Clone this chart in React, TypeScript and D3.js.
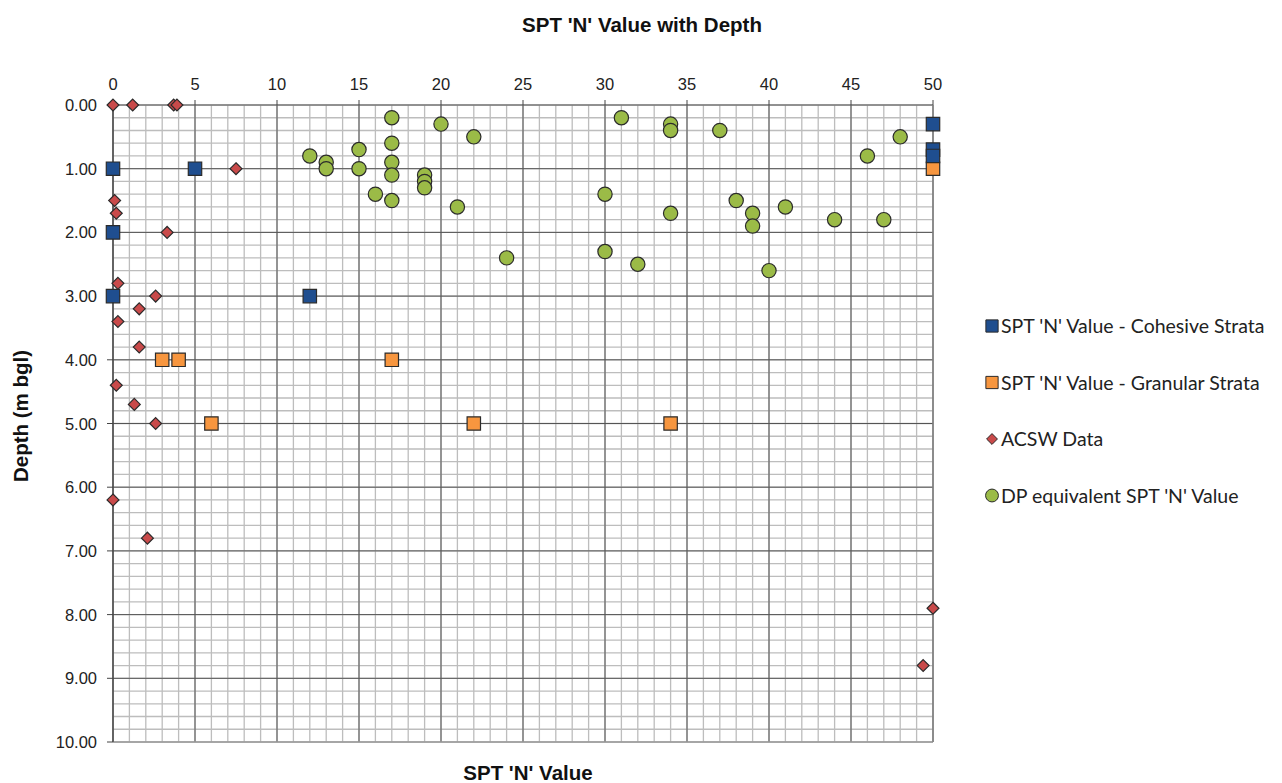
import * as d3 from "d3";
import { useRef, useEffect } from "react";

// SPT 'N' value vs depth (m bgl)
const cohesiveN = [0, 5, 0, 0, 12, 50, 50, 50];
const cohesiveDepth = [1.0, 1.0, 2.0, 3.0, 3.0, 0.3, 0.7, 0.8];

const granularN = [50, 3, 4, 17, 6, 22, 34];
const granularDepth = [1.0, 4.0, 4.0, 4.0, 5.0, 5.0, 5.0];

const acswN = [0, 1.2, 3.7, 3.9, 7.5, 0.1, 0.2, 3.3, 0.3, 2.6, 1.6, 0.3, 1.6, 0.2, 1.3, 2.6, 0, 2.1, 50, 49.4];
const acswDepth = [0, 0, 0, 0, 1.0, 1.5, 1.7, 2.0, 2.8, 3.0, 3.2, 3.4, 3.8, 4.4, 4.7, 5.0, 6.2, 6.8, 7.9, 8.8];

const dpN = [12, 13, 13, 15, 15, 16, 17, 17, 17, 17, 17, 19, 19, 19, 20, 21, 22, 24, 30, 30, 31, 32, 34, 34, 34, 37, 38, 39, 39, 40, 41, 44, 46, 47, 48];
const dpDepth = [0.8, 0.9, 1.0, 0.7, 1.0, 1.4, 0.2, 0.6, 0.9, 1.1, 1.5, 1.1, 1.2, 1.3, 0.3, 1.6, 0.5, 2.4, 1.4, 2.3, 0.2, 2.5, 0.3, 0.4, 1.7, 0.4, 1.5, 1.7, 1.9, 2.6, 1.6, 1.8, 0.8, 1.8, 0.5];

const xTicks = [0, 5, 10, 15, 20, 25, 30, 35, 40, 45, 50];
const yTicks = [0, 1, 2, 3, 4, 5, 6, 7, 8, 9, 10];

const seriesNames = [
  "SPT 'N' Value - Cohesive Strata",
  "SPT 'N' Value - Granular Strata",
  "ACSW Data",
  "DP equivalent SPT 'N' Value",
];

export default function App() {
  const ref = useRef<SVGSVGElement>(null);

  useEffect(() => {
    const width = 1282;
    const height = 783;
    const m = { left: 113, right: 933, top: 105, bottom: 742 };

    const svg = d3.select(ref.current);
    svg.selectAll("*").remove();
    svg.attr("width", width).attr("height", height);

    const x = d3.scaleLinear().domain([0, 50]).range([m.left, m.right]);
    const y = d3.scaleLinear().domain([0, 10]).range([m.top, m.bottom]);

    const grid = svg.append("g");
    // minor grid
    grid.selectAll("line.xminor")
      .data(d3.range(0, 51, 1))
      .enter().append("line")
      .attr("x1", d => x(d)).attr("x2", d => x(d))
      .attr("y1", m.top).attr("y2", m.bottom)
      .attr("stroke", "#bdbdbd").attr("stroke-width", 1.3);
    grid.selectAll("line.yminor")
      .data(d3.range(0, 51, 1).map(d => d / 5))
      .enter().append("line")
      .attr("y1", d => y(d)).attr("y2", d => y(d))
      .attr("x1", m.left).attr("x2", m.right)
      .attr("stroke", "#bdbdbd").attr("stroke-width", 1.3);
    // major grid
    grid.selectAll("line.xmajor")
      .data(xTicks)
      .enter().append("line")
      .attr("x1", d => x(d)).attr("x2", d => x(d))
      .attr("y1", m.top).attr("y2", m.bottom)
      .attr("stroke", "#555").attr("stroke-width", 1);
    grid.selectAll("line.ymajor")
      .data(yTicks.slice(0, -1))
      .enter().append("line")
      .attr("y1", d => y(d)).attr("y2", d => y(d))
      .attr("x1", m.left).attr("x2", m.right)
      .attr("stroke", "#555").attr("stroke-width", 1);
    grid.append("line")
      .attr("x1", m.left).attr("x2", m.right)
      .attr("y1", m.bottom).attr("y2", m.bottom)
      .attr("stroke", "#999").attr("stroke-width", 1.3);
    grid.append("line")
      .attr("x1", m.right).attr("x2", m.right)
      .attr("y1", m.top).attr("y2", m.bottom)
      .attr("stroke", "#888").attr("stroke-width", 1.3);
    grid.append("line")
      .attr("x1", m.left).attr("x2", m.left)
      .attr("y1", m.top).attr("y2", m.bottom)
      .attr("stroke", "#444").attr("stroke-width", 1.2);

    // tick marks
    grid.selectAll("line.ytick")
      .data(yTicks)
      .enter().append("line")
      .attr("x1", m.left - 6).attr("x2", m.left)
      .attr("y1", d => y(d)).attr("y2", d => y(d))
      .attr("stroke", "#444");
    grid.selectAll("line.xtick")
      .data(xTicks)
      .enter().append("line")
      .attr("x1", d => x(d)).attr("x2", d => x(d))
      .attr("y1", m.top - 5).attr("y2", m.top)
      .attr("stroke", "#444");

    const font = "'Liberation Sans', Arial, sans-serif";
    svg.selectAll("text.xt")
      .data(xTicks)
      .enter().append("text")
      .attr("x", d => x(d)).attr("y", 90)
      .attr("text-anchor", "middle")
      .style("font-family", font).style("font-size", "16.5px").attr("fill", "#222")
      .text(d => d);
    svg.selectAll("text.yt")
      .data(yTicks)
      .enter().append("text")
      .attr("x", 97).attr("y", d => y(d) + 6)
      .attr("text-anchor", "end")
      .style("font-family", font).style("font-size", "16.5px").attr("fill", "#222")
      .text(d => d3.format(".2f")(d));

    svg.append("text")
      .attr("x", 642).attr("y", 32)
      .attr("text-anchor", "middle")
      .style("font-family", font).style("font-size", "20.5px").style("font-weight", "bold")
      .attr("fill", "#111")
      .text("SPT 'N' Value with Depth");
    svg.append("text")
      .attr("x", 528).attr("y", 780)
      .attr("text-anchor", "middle")
      .style("font-family", font).style("font-size", "20.5px").style("font-weight", "bold")
      .attr("fill", "#111")
      .text("SPT 'N' Value");
    svg.append("text")
      .attr("transform", `translate(28, 416) rotate(-90)`)
      .attr("text-anchor", "middle")
      .style("font-family", font).style("font-size", "20.5px").style("font-weight", "bold")
      .attr("fill", "#111")
      .text("Depth (m bgl)");

    const stroke = "#2b2b2b";
    const colors = ["#1f4e8f", "#f7963f", "#c94a4a", "#9bbb47"];

    const square = d3.symbol().type(d3.symbolSquare).size(180);
    const diamond = d3.symbol().type(d3.symbolDiamond2).size(90);
    const circle = d3.symbol().type(d3.symbolCircle).size(160);

    const plot = svg.append("g");
    const drawSeries = (xs: number[], ys: number[], sym: any, color: string) => {
      plot.append("g").selectAll("path")
        .data(xs.map((v, i) => [v, ys[i]]))
        .enter().append("path")
        .attr("d", sym)
        .attr("transform", d => `translate(${x(d[0])},${y(d[1])})`)
        .attr("fill", color).attr("stroke", stroke).attr("stroke-width", 1.2);
    };
    drawSeries(dpN, dpDepth, circle, colors[3]);
    drawSeries(acswN, acswDepth, diamond, colors[2]);
    drawSeries(granularN, granularDepth, square, colors[1]);
    drawSeries(cohesiveN, cohesiveDepth, square, colors[0]);

    // legend
    const legendSyms = [
      d3.symbol().type(d3.symbolSquare).size(150),
      d3.symbol().type(d3.symbolSquare).size(150),
      d3.symbol().type(d3.symbolDiamond2).size(75),
      d3.symbol().type(d3.symbolCircle).size(130),
    ];
    const lg = svg.append("g");
    seriesNames.forEach((name, i) => {
      const ly = 326 + i * 56.5;
      lg.append("path")
        .attr("d", legendSyms[i] as any)
        .attr("transform", `translate(992,${ly})`)
        .attr("fill", colors[i]).attr("stroke", stroke).attr("stroke-width", 1);
      lg.append("text")
        .attr("x", 1001).attr("y", ly + 7)
        .style("font-family", "Lato, 'Open Sans', sans-serif").style("font-size", "19.5px")
        .attr("fill", "#222")
        .text(name);
    });
  }, []);

  return <svg ref={ref} style={{ position: "absolute", left: 0, top: 0 }}></svg>;
}
